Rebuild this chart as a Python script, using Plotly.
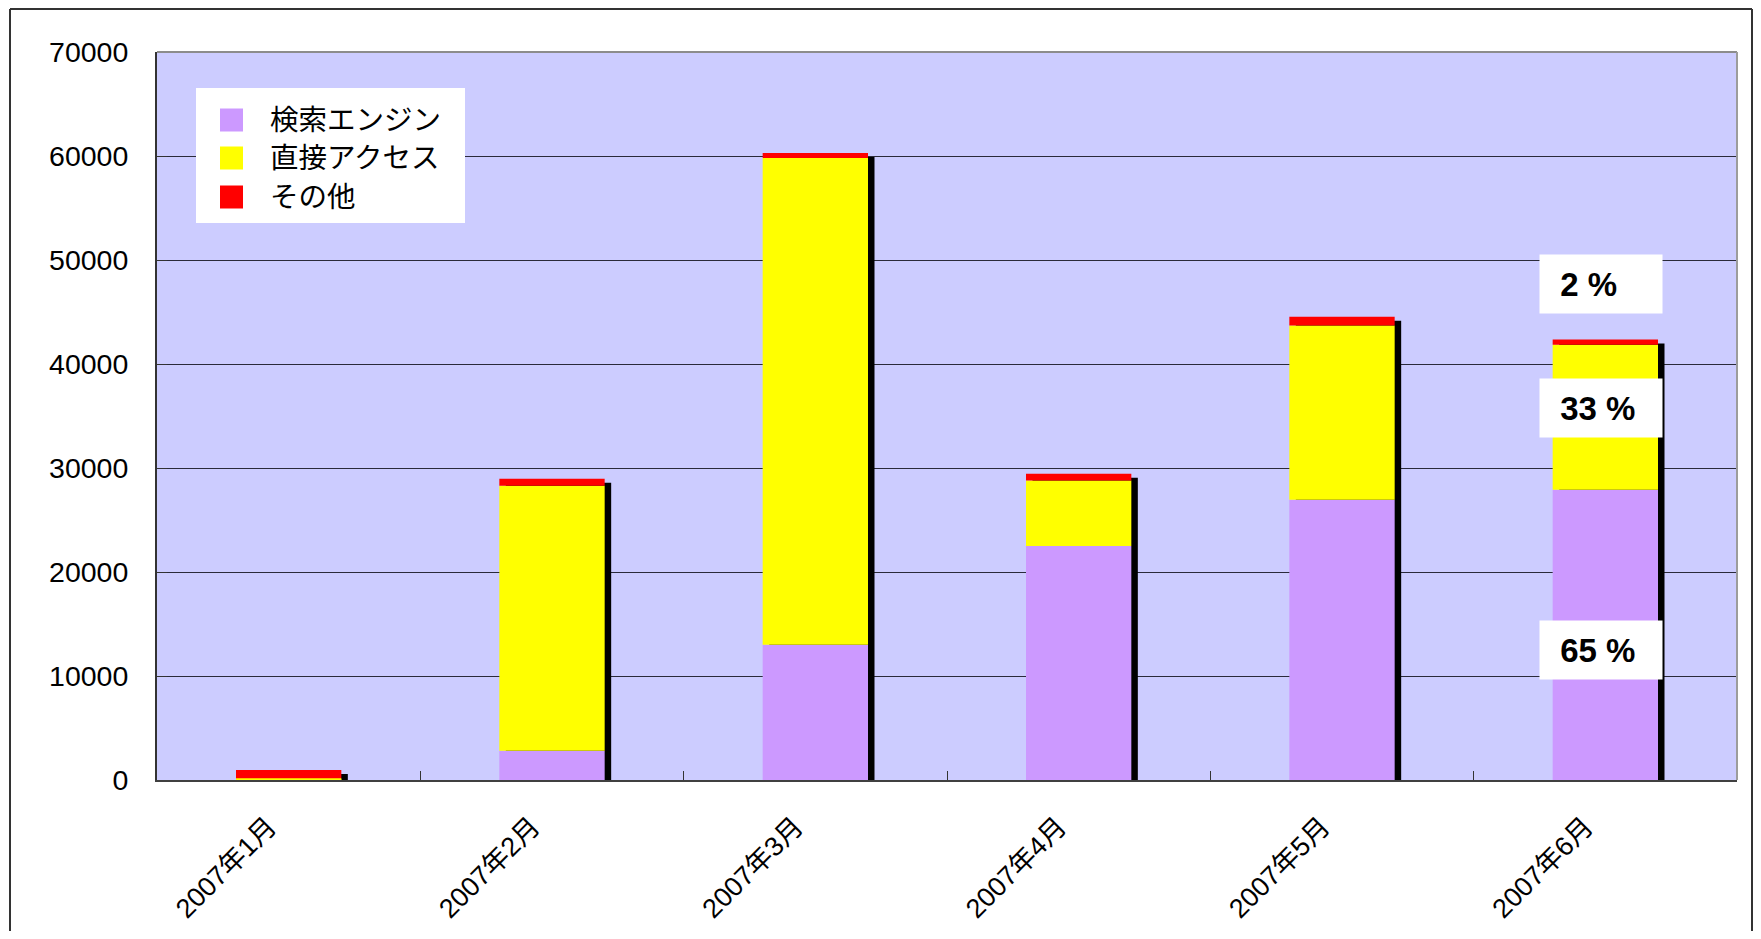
import plotly.graph_objects as go

# ---- data ----
months = ["2007年1月", "2007年2月", "2007年3月", "2007年4月", "2007年5月", "2007年6月"]
series_names = ["検索エンジン", "直接アクセス", "その他"]
search_engine = [20, 2820, 13000, 22500, 26950, 27900]
direct_access = [150, 25480, 46800, 6300, 16750, 13950]
other = [800, 670, 500, 650, 850, 500]
pct_labels = ["2 %", "33 %", "65 %"]
y_ticks = [0, 10000, 20000, 30000, 40000, 50000, 60000, 70000]

# ---- style ----
colors = ["#CC99FF", "#FFFF00", "#FF0000"]
OFF = 8  # page body margin
W, H = 1761 - 2 * OFF, 939 - 2 * OFF
L, R, T, B = 157 - OFF, 1737 - OFF, 52 - OFF, 780 - OFF
FONT = "Liberation Sans, Arial, Noto Sans CJK JP, sans-serif"
YMAX = 70000
px_per_unit = (B - T) / YMAX
cat_px = (R - L) / len(months)

def px_x(px):  # px given in reference page coordinates
    return (px - OFF - L) / (R - L)

def px_y(py):
    return (B - (py - OFF)) / (B - T)

series = [search_engine, direct_access, other]
totals = [sum(v) for v in zip(*series)]

fig = go.Figure()

# shadow (drawn first, behind)
shadow_dx = 6.5 / cat_px
shadow_dy = 4 / px_per_unit
fig.add_trace(go.Bar(
    x=months, y=totals, base=[-shadow_dy] * len(months),
    width=0.4, offset=-0.2 + shadow_dx,
    marker=dict(color="#000000", line=dict(width=0)),
    showlegend=False, hoverinfo="skip",
))

base = [0] * len(months)
for name, vals, c in zip(series_names, series, colors):
    fig.add_trace(go.Bar(
        x=months, y=vals, base=list(base), name=name,
        width=0.4, offset=-0.2,
        marker=dict(color=c, line=dict(width=0)),
        showlegend=False,
    ))
    base = [b + v for b, v in zip(base, vals)]

shapes = []
annotations = []

# plot border top/right (gray)
shapes.append(dict(type="line", xref="paper", yref="paper", x0=0, x1=1, y0=1, y1=1,
                   line=dict(color="#8C8C8C", width=2)))
shapes.append(dict(type="line", xref="paper", yref="paper", x0=1, x1=1, y0=0, y1=1,
                   line=dict(color="#9C9C9C", width=2)))
# outer chart border (left, top, right edges; bottom runs off the page)
for (xa, ya, xb, yb) in [(10, 9, 1752, 9), (10, 9, 10, 1000), (1752, 9, 1752, 1000)]:
    shapes.append(dict(type="line", xref="paper", yref="paper",
                       x0=px_x(xa), y0=px_y(ya), x1=px_x(xb), y1=px_y(yb),
                       line=dict(color="#333333", width=2)))

# manual legend
shapes.append(dict(type="rect", xref="paper", yref="paper",
                   x0=px_x(196), x1=px_x(465), y0=px_y(223), y1=px_y(88),
                   line=dict(width=0), fillcolor="#FFFFFF"))
row_centers = [120, 158, 197]
for name, c, yc in zip(series_names, colors, row_centers):
    shapes.append(dict(type="rect", xref="paper", yref="paper",
                       x0=px_x(220), x1=px_x(243), y0=px_y(yc + 11.5), y1=px_y(yc - 11.5),
                       line=dict(width=0), fillcolor=c))
    annotations.append(dict(xref="paper", yref="paper", x=px_x(268), y=px_y(yc),
                            xanchor="left", yanchor="middle", showarrow=False,
                            text=name, font=dict(family=FONT, size=28.5, color="#000000")))

# percentage labels on last bar
label_y = [47700, 35800, 12500]
for txt, yv in zip(pct_labels, label_y):
    annotations.append(dict(x=months[-1], y=yv, xref="x", yref="y",
                            text="\u00a0" + txt, showarrow=False,
                            width=100, height=36, borderpad=11, align="left",
                            bgcolor="#FFFFFF", xshift=-4,
                            font=dict(family=FONT, size=33, color="#000000", weight="bold")))

fig.update_layout(
    width=W, height=H,
    margin=dict(l=L, r=W - R, t=T, b=H - B, pad=0, autoexpand=False),
    paper_bgcolor="#FFFFFF", plot_bgcolor="#CCCCFF",
    barmode="overlay", bargap=0.6,
    showlegend=False,
    shapes=shapes, annotations=annotations,
    font=dict(family=FONT, color="#000000"),
)
fig.update_xaxes(
    type="category", range=[-0.5, len(months) - 0.5], automargin=False,
    tickson="boundaries", ticks="inside", ticklen=9, tickwidth=1, tickcolor="#333333",
    showgrid=False, zeroline=False,
    showline=True, linecolor="#404040", linewidth=2,
    tickangle=-45, tickfont=dict(family=FONT, size=27, color="#000000"),
    ticklabelstandoff=18, ticklabelshift=-20,
)
fig.update_yaxes(
    range=[0, YMAX], tickvals=y_ticks, ticktext=[str(v) for v in y_ticks], automargin=False,
    ticks="inside", ticklen=10, tickwidth=1, tickcolor="#333333",
    showgrid=True, gridcolor="#2A2A3A", gridwidth=1,
    zeroline=False, showline=True, linecolor="#333333", linewidth=2,
    tickfont=dict(family=FONT, size=28.5, color="#000000"),
    ticklabelstandoff=21,
)

fig.write_html("out.html")
